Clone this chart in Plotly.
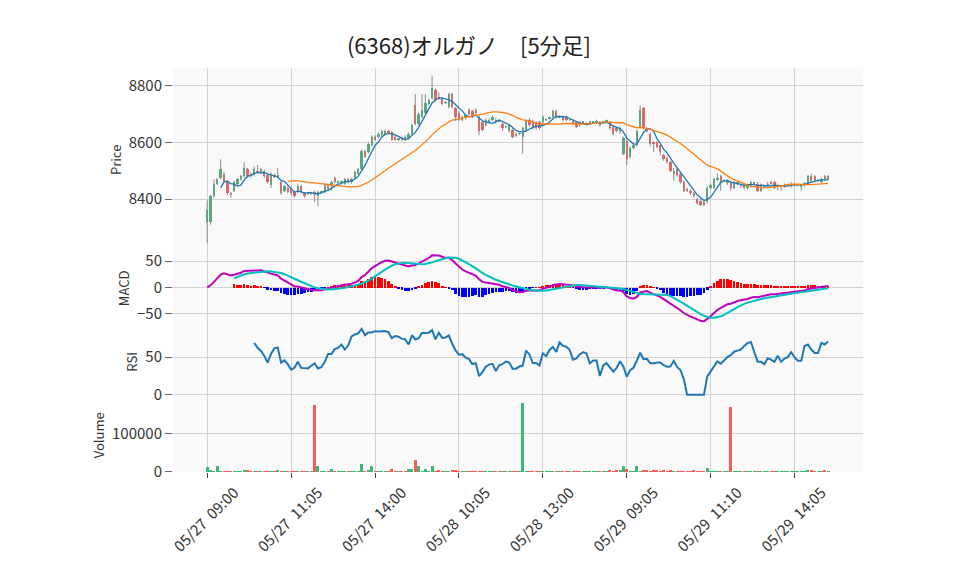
import plotly.graph_objects as go
from plotly.subplots import make_subplots
import pandas as pd

title_text = "(6368)オルガノ\u3000[5分足]"
tick_idx = [0, 25, 50, 75, 100, 125, 150, 175]
tick_labels = ["05/27 \u00a009:00", "05/27 \u00a011:05", "05/27 \u00a014:00", "05/28 \u00a010:05",
               "05/28 \u00a013:00", "05/29 \u00a009:05", "05/29 \u00a011:10", "05/29 \u00a014:05"]

open_ = [8320,8320,8410,8455,8475,8490,8460,8420,8430,8455,8470,8480,8505,8490,8485,8500,8495,8500,8485,8450,
         8485,8480,8460,8430,8440,8435,8425,8425,8445,8420,8420,8420,8425,8410,8425,8425,8450,8445,8475,8460,
         8460,8455,8470,8460,8475,8490,8505,8570,8565,8590,8620,8620,8625,8630,8640,8635,8620,8610,8615,8620,
         8615,8630,8730,8665,8690,8705,8735,8755,8785,8760,8755,8740,8725,8770,8720,8705,8680,8685,8715,8710,
         8715,8690,8670,8660,8670,8680,8680,8675,8665,8655,8640,8645,8630,8630,8620,8640,8680,8675,8670,8670,
         8670,8680,8685,8690,8710,8690,8690,8690,8680,8675,8670,8670,8670,8665,8670,8670,8670,8670,8670,8675,
         8670,8655,8650,8640,8560,8605,8550,8580,8590,8655,8720,8650,8630,8600,8600,8590,8555,8545,8530,8490,
         8505,8490,8460,8435,8430,8420,8400,8395,8390,8390,8440,8440,8470,8480,8465,8460,8460,8440,8455,8450,
         8450,8440,8445,8455,8455,8430,8445,8445,8460,8460,8445,8445,8445,8450,8445,8450,8450,8445,8450,8455,
         8480,8480,8465,8460,8480,8470]
high = [8395,8415,8470,8475,8540,8495,8465,8425,8465,8475,8485,8530,8510,8495,8515,8520,8510,8505,8490,8495,
        8490,8510,8465,8450,8445,8440,8430,8455,8450,8425,8425,8425,8430,8430,8430,8455,8455,8465,8480,8465,
        8465,8475,8475,8475,8500,8510,8575,8575,8600,8625,8625,8635,8645,8645,8645,8640,8625,8615,8620,8625,
        8635,8665,8770,8705,8770,8770,8755,8835,8790,8775,8760,8745,8775,8775,8725,8710,8695,8700,8720,8715,
        8720,8695,8675,8685,8685,8695,8685,8680,8670,8660,8665,8650,8635,8635,8655,8680,8685,8680,8675,8675,
        8695,8685,8690,8715,8715,8695,8695,8695,8685,8680,8675,8675,8675,8670,8675,8675,8680,8675,8675,8680,
        8675,8660,8655,8655,8620,8610,8585,8595,8645,8730,8725,8655,8635,8605,8605,8595,8560,8550,8535,8510,
        8510,8495,8465,8440,8435,8425,8405,8400,8395,8445,8455,8475,8490,8485,8470,8470,8465,8465,8460,8455,
        8455,8455,8465,8460,8460,8455,8450,8460,8465,8465,8450,8450,8455,8455,8460,8455,8455,8450,8460,8485,
        8490,8485,8470,8475,8485,8485]
low = [8245,8310,8405,8450,8470,8460,8415,8405,8425,8450,8465,8475,8475,8475,8480,8490,8490,8475,8455,8440,
       8475,8475,8415,8425,8420,8415,8405,8420,8420,8405,8415,8415,8390,8375,8420,8420,8430,8430,8455,8455,
       8455,8450,8455,8455,8470,8485,8500,8545,8560,8585,8605,8615,8620,8625,8630,8605,8605,8605,8605,8605,
       8610,8625,8660,8660,8685,8700,8730,8750,8745,8750,8730,8735,8720,8720,8675,8675,8675,8680,8695,8685,
       8700,8625,8640,8655,8665,8675,8665,8670,8640,8650,8635,8615,8620,8625,8560,8635,8655,8645,8645,8645,
       8665,8675,8680,8685,8685,8685,8675,8675,8675,8660,8650,8655,8665,8660,8665,8665,8665,8655,8665,8670,
       8645,8625,8635,8630,8555,8520,8545,8575,8585,8650,8645,8635,8585,8565,8580,8555,8535,8525,8495,8465,
       8480,8455,8425,8425,8415,8405,8380,8375,8375,8385,8435,8435,8465,8430,8460,8450,8430,8435,8450,8440,
       8435,8435,8440,8450,8425,8425,8440,8440,8450,8435,8430,8430,8440,8445,8440,8445,8445,8430,8445,8450,
       8460,8460,8460,8455,8465,8465]
close = [8360,8410,8455,8470,8505,8465,8420,8415,8460,8470,8480,8510,8480,8480,8505,8495,8505,8480,8460,8490,
         8480,8480,8420,8445,8425,8420,8410,8445,8425,8410,8420,8420,8420,8425,8425,8450,8435,8460,8460,8460,
         8460,8470,8460,8470,8495,8505,8570,8550,8595,8620,8610,8630,8640,8640,8635,8610,8610,8610,8610,8610,
         8630,8660,8665,8700,8715,8740,8750,8790,8750,8755,8735,8740,8770,8725,8690,8680,8690,8695,8700,8690,
         8705,8640,8645,8680,8680,8690,8670,8675,8650,8655,8660,8620,8625,8630,8650,8675,8660,8650,8650,8650,
         8690,8680,8685,8710,8690,8690,8680,8680,8680,8665,8655,8660,8670,8665,8670,8670,8675,8660,8670,8675,
         8650,8630,8640,8650,8615,8540,8580,8590,8640,8715,8650,8640,8595,8595,8585,8565,8540,8530,8500,8500,
         8485,8460,8430,8430,8420,8410,8385,8380,8380,8440,8450,8470,8475,8460,8465,8460,8440,8460,8455,8450,
         8440,8450,8460,8455,8430,8450,8445,8455,8455,8440,8445,8445,8450,8450,8455,8450,8450,8445,8455,8480,
         8465,8465,8465,8470,8470,8480]
volume = [14000,7000,4000,18000,4000,4000,4000,4000,4000,4000,4000,7000,7000,3000,4000,2000,2000,2000,2000,5000,
          3000,7000,5000,2000,2000,2000,2000,2000,2000,2000,2000,2000,178000,16000,2000,2000,3000,10000,3000,2000,
          4000,2000,2000,2000,5000,3000,21000,3000,7000,16000,4000,2000,4000,3000,3000,10000,5000,5000,3000,4000,
          10000,10000,32000,16000,5000,10000,5000,18000,5000,7000,5000,4000,4000,7000,7000,4000,2000,2000,2000,4000,
          4000,4000,2000,2000,3000,2000,2000,2000,2000,2000,2000,2000,2000,2000,183000,4000,2000,4000,2000,2000,
          4000,2000,3000,3000,2000,2000,2000,2000,2000,3000,2000,2000,2000,2000,2000,2000,3000,2000,2000,2000,
          7000,5000,7000,7000,16000,10000,4000,4000,16000,5000,7000,7000,5000,7000,7000,5000,7000,5000,7000,5000,
          4000,5000,4000,2000,5000,7000,4000,3000,4000,13000,4000,4000,2000,2000,2000,2000,172000,4000,2000,4000,
          2000,2000,2000,2000,2000,3000,2000,2000,2000,2000,2000,2000,2000,3000,2000,2000,2000,2000,2000,7000,
          7000,5000,4000,4000,7000,4000]

n = len(close)
idx = list(range(n))
s = pd.Series(close, dtype=float)
ma5 = s.rolling(5).mean()
ma25 = s.rolling(25).mean()
macd = s.ewm(span=12, adjust=False).mean() - s.ewm(span=26, adjust=False).mean()
signal = macd.rolling(9).mean()
hist = macd - signal
d = s.diff()
up = d.clip(lower=0).rolling(14).mean()
dn = (-d.clip(upper=0)).rolling(14).mean()
rsi = up / (up + dn) * 100

GREEN = "#3cb878"
RED = "#ff5a5a"
cols = [GREEN if c >= o else RED for o, c in zip(open_, close)]

fig = make_subplots(rows=4, cols=1, shared_xaxes=True, vertical_spacing=0,
                    row_heights=[2.5, 1, 1, 1])

# wicks
wx, wy = [], []
for i in idx:
    wx += [i, i, None]
    wy += [low[i], high[i], None]
fig.add_trace(go.Scatter(x=wx, y=wy, mode="lines", line=dict(color="#8c8c8c", width=1),
                         hoverinfo="skip"), row=1, col=1)
# bodies
base = [min(o, c) for o, c in zip(open_, close)]
hgt = [max(abs(c - o), 2) for o, c in zip(open_, close)]
fig.add_trace(go.Bar(x=idx, y=hgt, base=base, marker=dict(color=cols, line=dict(width=0)),
                     width=0.7), row=1, col=1)
fig.add_trace(go.Scatter(x=idx, y=ma5, mode="lines", line=dict(color="#1f77b4", width=1.3)), row=1, col=1)
fig.add_trace(go.Scatter(x=idx, y=ma25, mode="lines", line=dict(color="#ff7f0e", width=1.3)), row=1, col=1)

hcols = ["#ff0000" if (v == v and v >= 0) else "#0000ff" for v in hist]
fig.add_trace(go.Bar(x=idx, y=hist, marker=dict(color=hcols, line=dict(width=0)), width=0.8), row=2, col=1)
fig.add_trace(go.Scatter(x=idx, y=macd, mode="lines", line=dict(color="#bf00bf", width=2)), row=2, col=1)
fig.add_trace(go.Scatter(x=idx, y=signal, mode="lines", line=dict(color="#00bfbf", width=2)), row=2, col=1)

fig.add_trace(go.Scatter(x=idx, y=rsi, mode="lines", line=dict(color="#1f77b4", width=2)), row=3, col=1)

fig.add_trace(go.Bar(x=idx, y=volume, marker=dict(color=cols, line=dict(width=0)), width=0.9), row=4, col=1)

FONT = "Noto Sans CJK JP"
fig.update_layout(
    width=958, height=575,
    margin=dict(l=173, r=95, t=68, b=103),
    paper_bgcolor="white", plot_bgcolor="#f9f9f9",
    showlegend=False, bargap=0,
    font=dict(family=FONT, size=15, color="#333333"),
    title=dict(text=title_text, x=469 / 958, xanchor="center", y=1 - 46 / 575, yanchor="middle",
               xref="container", yref="container", font=dict(size=22, color="#222222")),
)
for r in range(1, 5):
    fig.update_xaxes(row=r, col=1, range=[-10.2, 195.4], tickvals=tick_idx, ticktext=tick_labels,
                     showgrid=True, gridcolor="#d2d2d2", gridwidth=1, zeroline=False,
                     showticklabels=(r == 4), ticks=("outside" if r == 4 else ""),
                     ticklen=5, tickcolor="#444444", tickangle=-45, ticklabelshift=27,
                     tickfont=dict(size=15), showline=False)
fig.update_yaxes(showgrid=True, gridcolor="#d2d2d2", gridwidth=1, ticks="outside", ticklen=7,
                 tickcolor="#666666", zeroline=False, showline=False, tickfont=dict(size=15),
                 title_font=dict(size=13), title_standoff=4)
fig.update_yaxes(row=1, col=1, title_text="Price", range=[8215, 8862], tickvals=[8400, 8600, 8800])
fig.update_yaxes(row=2, col=1, title_text="MACD", tickvals=[-50, 0, 50])
fig.update_yaxes(row=3, col=1, title_text="RSI", tickvals=[0, 50])
fig.update_yaxes(row=4, col=1, title_text="Volume", tickvals=[0, 100000], tickformat="d")

fig.write_html("out.html")
